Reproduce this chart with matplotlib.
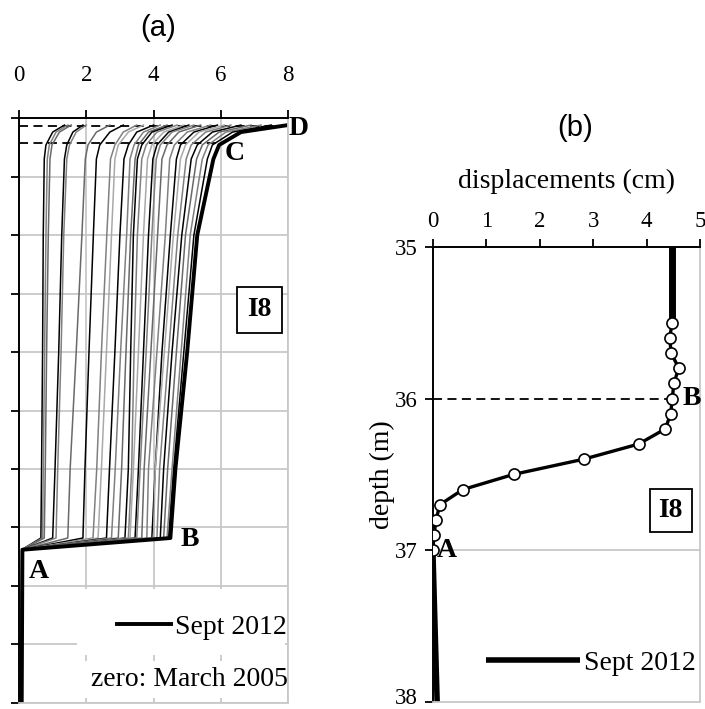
import numpy as np
import matplotlib.pyplot as plt
from matplotlib.patches import Rectangle
from matplotlib.transforms import ScaledTranslation

plt.rcParams['font.family'] = 'Liberation Serif'

# (a) inclinometer profiles: depth nodes (m) and displacement (cm) of each reading
depth_nodes = [0.6, 1.2, 2.3, 3.5, 10, 20, 30, 35.9, 36.9, 50]
profiles = [
    [1.35, 1.00, 0.80, 0.75, 0.72, 0.70, 0.67, 0.65, 0.08, 0.04],
    [1.45, 1.10, 0.90, 0.84, 0.80, 0.76, 0.72, 0.70, 0.08, 0.04],
    [1.55, 1.20, 0.98, 0.92, 0.87, 0.82, 0.78, 0.75, 0.09, 0.05],
    [1.90, 1.60, 1.42, 1.35, 1.27, 1.18, 1.07, 1.00, 0.09, 0.05],
    [2.00, 1.70, 1.50, 1.42, 1.33, 1.25, 1.15, 1.10, 0.09, 0.05],
    [2.70, 2.30, 2.05, 1.97, 1.87, 1.70, 1.52, 1.45, 0.10, 0.05],
    [3.10, 2.70, 2.40, 2.30, 2.21, 2.08, 1.96, 1.90, 0.10, 0.05],
    [3.50, 3.10, 2.85, 2.72, 2.61, 2.45, 2.31, 2.20, 0.10, 0.05],
    [3.70, 3.25, 2.95, 2.85, 2.75, 2.60, 2.45, 2.35, 0.10, 0.05],
    [4.00, 3.50, 3.25, 3.12, 3.00, 2.85, 2.69, 2.60, 0.10, 0.05],
    [4.20, 3.70, 3.42, 3.30, 3.20, 3.02, 2.86, 2.75, 0.10, 0.05],
    [4.40, 3.85, 3.55, 3.45, 3.32, 3.18, 3.05, 2.95, 0.10, 0.05],
    [4.55, 3.95, 3.65, 3.52, 3.40, 3.32, 3.25, 3.15, 0.10, 0.05],
    [4.70, 4.10, 3.78, 3.65, 3.52, 3.42, 3.35, 3.25, 0.10, 0.05],
    [4.90, 4.30, 3.95, 3.82, 3.70, 3.55, 3.40, 3.30, 0.10, 0.05],
    [5.05, 4.45, 4.10, 3.98, 3.85, 3.70, 3.55, 3.45, 0.10, 0.05],
    [5.20, 4.55, 4.20, 4.08, 3.95, 3.78, 3.60, 3.50, 0.10, 0.05],
    [5.40, 4.75, 4.40, 4.25, 4.12, 3.92, 3.72, 3.65, 0.10, 0.05],
    [5.70, 5.00, 4.62, 4.48, 4.35, 4.10, 3.85, 3.80, 0.10, 0.05],
    [5.90, 5.20, 4.80, 4.68, 4.50, 4.25, 4.05, 3.95, 0.10, 0.05],
    [6.10, 5.35, 4.95, 4.80, 4.59, 4.32, 4.05, 4.00, 0.10, 0.05],
    [6.30, 5.55, 5.12, 4.97, 4.72, 4.45, 4.18, 4.10, 0.10, 0.05],
    [6.60, 5.75, 5.30, 5.12, 4.84, 4.55, 4.30, 4.20, 0.10, 0.05],
    [6.90, 5.95, 5.45, 5.28, 4.95, 4.68, 4.42, 4.30, 0.10, 0.05],
    [7.20, 6.15, 5.62, 5.45, 5.09, 4.82, 4.55, 4.40, 0.10, 0.06],
    [7.50, 6.35, 5.75, 5.60, 5.20, 4.90, 4.60, 4.45, 0.10, 0.06],
]
profile_colors = ['black', 'gray', 'dimgray', 'black', 'gray', 'dimgray', 'black',
                  'gray', 'darkgray', 'black', 'gray', 'dimgray', 'black', 'gray',
                  'darkgray', 'black', 'gray', 'dimgray', 'gray', 'black', 'darkgray',
                  'gray', 'black', 'dimgray', 'gray', 'black']
final_profile = [8.00, 6.60, 5.95, 5.78, 5.30, 5.00, 4.65, 4.50, 0.10, 0.08]
slip_depths_a = [0.68, 2.14]
slip_ends_a = [8.0, 5.9]

# (b) detail of the shear zone, Sept 2012 reading
thick_depth = [35.0, 35.5]
thick_disp = [4.48, 4.48]
pt_depth = [35.5, 35.6, 35.7, 35.8, 35.9, 36.0, 36.1, 36.2, 36.3, 36.4, 36.5,
            36.6, 36.7, 36.8, 36.9, 37.0]
pt_disp = [4.48, 4.43, 4.46, 4.60, 4.51, 4.48, 4.45, 4.35, 3.85, 2.82, 1.51,
           0.56, 0.13, 0.06, 0.02, 0.0]
deep_depth = [37.0, 38.0]
deep_disp = [0.0, 0.08]

fig = plt.figure(figsize=(7.05, 7.09), dpi=100)

# ---------------- panel (a) ----------------
ax1 = fig.add_axes([0.027, 0.0085, 0.3816, 0.825])
for prof, col in zip(profiles, profile_colors):
    ax1.plot(prof, depth_nodes, color=col, lw=1.1)
ax1.plot(final_profile, depth_nodes, color='black', lw=2.8, label='Sept 2012')
for d, xe in zip(slip_depths_a, slip_ends_a):
    ax1.plot([0, xe], [d, d], color='black', lw=1.3, ls=(0, (5, 3)), zorder=1)
ax1.set_xlim(0, 8)
ax1.set_ylim(50, 0)
ax1.set_xticks([0, 2, 4, 6, 8])
ax1.set_yticks(np.arange(0, 51, 5))
ax1.set_yticklabels([])
ax1.xaxis.tick_top()
ax1.tick_params(axis='x', direction='out', length=6, width=1.3, labelsize=16.5, pad=17)
ax1.tick_params(axis='y', direction='out', length=6, width=1.3)
ax1.grid(True, color='#c8c8c8', lw=1.3)
ax1.set_axisbelow(True)
ax1.spines['left'].set_linewidth(1.4)
ax1.spines['top'].set_linewidth(1.4)
for s in ['right', 'bottom']:
    ax1.spines[s].set_color('#c8c8c8')
    ax1.spines[s].set_linewidth(1.3)

# white blocks behind the legend and the note hide the grid there
for y0, y1 in [(40.3, 45.9), (46.4, 49.6)]:
    ax1.add_patch(Rectangle((1.72, y0), 6.2, y1 - y0, fc='white', ec='none', zorder=0.8))

ax1.text(8.02, 0.9, 'D', fontsize=20, fontweight='bold', va='center', ha='left')
ax1.text(6.1, 3.0, 'C', fontsize=20, fontweight='bold', va='center', ha='left')
ax1.text(4.8, 36.0, 'B', fontsize=20, fontweight='bold', va='center', ha='left')
ax1.text(0.3, 38.8, 'A', fontsize=20, fontweight='bold', va='center', ha='left')
ax1.text(7.15, 16.4, 'I8', fontsize=20, fontweight='bold', va='center', ha='center',
         bbox=dict(boxstyle='square,pad=0.38', fc='white', ec='black', lw=1.3))
ax1.legend(loc='center right', bbox_to_anchor=(0.995, 0.13), frameon=False,
           fontsize=20, handlelength=1.95, handletextpad=0.15, borderpad=0,
           borderaxespad=0)
ax1.text(7.98, 48.0, 'zero: March 2005', fontsize=20, ha='right', va='center')
fig.text(158 / 705, 1 - 28 / 709, '(a)', family='Liberation Sans', fontsize=21,
         ha='center', va='center')

# ---------------- panel (b) ----------------
ax2 = fig.add_axes([0.614, 0.0099, 0.379, 0.642])
ax2.plot(thick_disp, thick_depth, color='black', lw=5, solid_capstyle='butt')
ax2.plot(pt_disp, pt_depth, color='black', lw=2.4, marker='o', ms=8,
         mfc='white', mec='black', mew=1.2, zorder=3)
ax2.plot(deep_disp, deep_depth, color='black', lw=4, solid_capstyle='butt',
         label='Sept 2012')
ax2.plot([0, 4.48], [36, 36], color='black', lw=1.3, ls=(0, (5, 3)), zorder=2)
ax2.axhline(37, color='#c8c8c8', lw=1.3, zorder=1)
ax2.set_xlim(0, 5)
ax2.set_ylim(38, 35)
ax2.set_xticks([0, 1, 2, 3, 4, 5])
ax2.set_yticks([35, 36, 37, 38])
ax2.xaxis.tick_top()
ax2.xaxis.set_label_position('top')
ax2.set_xlabel('displacements (cm)', fontsize=20, labelpad=16)
ax2.set_ylabel('depth (m)', fontsize=20)
ax2.yaxis.set_label_coords(-0.14, 0.5)
ax2.tick_params(axis='both', direction='out', length=6, width=1.3, labelsize=16.5)
ax2.tick_params(axis='x', pad=5)
ax2.tick_params(axis='y', pad=5)
ax2.spines['left'].set_linewidth(1.4)
ax2.spines['top'].set_linewidth(1.4)
for s in ['right', 'bottom']:
    ax2.spines[s].set_color('#c8c8c8')
    ax2.spines[s].set_linewidth(1.3)
# nudge the lowest depth label so it stays inside the figure
lowest = ax2.get_yticklabels()[-1]
lowest.set_transform(lowest.get_transform()
                     + ScaledTranslation(0, 6 / 100, fig.dpi_scale_trans))
ax2.text(4.68, 36.0, 'B', fontsize=20, fontweight='bold', va='center', ha='left')
ax2.text(0.08, 37.0, 'A', fontsize=20, fontweight='bold', va='center', ha='left')
ax2.text(4.45, 36.74, 'I8', fontsize=20, fontweight='bold', va='center', ha='center',
         bbox=dict(boxstyle='square,pad=0.32', fc='white', ec='black', lw=1.3))
ax2.legend(loc='center right', bbox_to_anchor=(0.995, 0.086), frameon=False,
           fontsize=20, handlelength=3.4, handletextpad=0.15, borderaxespad=0,
           borderpad=0.1)
fig.text(575 / 705, 1 - 128 / 709, '(b)', family='Liberation Sans', fontsize=21,
         ha='center', va='center')

fig.savefig('out.png', dpi=100)
